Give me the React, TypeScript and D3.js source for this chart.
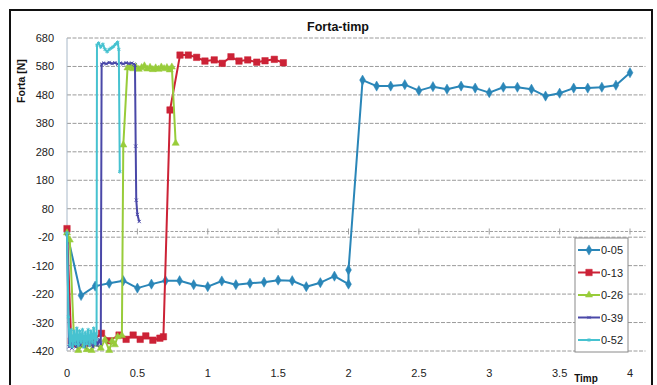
import React from "react";
import * as d3 from "d3";

type Pt = [number, number];

const chartTitle = "Forta-timp";
const yTitle = "Forta [N]";
const xTitle = "Timp";
const yTicks = [680, 580, 480, 380, 280, 180, 80, -20, -120, -220, -320, -420];
const xTicks = [0, 0.5, 1, 1.5, 2, 2.5, 3, 3.5, 4];
const seriesNames = ["0-05", "0-13", "0-26", "0-39", "0-52"];

const s005: Pt[] = [
  [0, -5], [0.1, -225], [0.2, -192], [0.3, -182], [0.4, -173], [0.5, -199], [0.6, -185],
  [0.7, -173], [0.8, -173], [0.9, -187], [1.0, -194], [1.1, -174], [1.2, -187], [1.3, -182],
  [1.4, -178], [1.5, -171], [1.6, -173], [1.7, -194], [1.8, -180], [1.9, -157], [2.0, -185],
  [2.0, -135], [2.1, 532], [2.2, 511], [2.3, 511], [2.4, 516], [2.5, 495], [2.6, 509],
  [2.7, 500], [2.8, 511], [2.9, 504], [3.0, 488], [3.1, 507], [3.2, 507], [3.3, 500],
  [3.4, 476], [3.5, 486], [3.6, 504], [3.7, 504], [3.8, 507], [3.9, 514], [4.0, 558],
];

const s013: Pt[] = [
  [0, 10], [0.03, -385], [0.07, -395], [0.11, -388], [0.15, -392], [0.19, -380],
  [0.245, -358], [0.3, -384], [0.37, -364], [0.42, -379], [0.47, -364], [0.52, -379],
  [0.56, -367], [0.61, -382], [0.66, -375], [0.685, -370], [0.732, 427], [0.803, 620],
  [0.862, 620], [0.921, 612], [0.98, 599], [1.046, 603], [1.103, 591], [1.165, 614],
  [1.222, 599], [1.284, 603], [1.348, 595], [1.407, 600], [1.473, 605], [1.537, 593],
];

const s026: Pt[] = [
  [0, -5], [0.02, -30], [0.05, -380], [0.08, -418], [0.11, -400], [0.14, -415], [0.175, -418],
  [0.2, -395], [0.24, -410], [0.27, -380], [0.3, -418], [0.32, -385], [0.34, -398],
  [0.36, -370], [0.39, -365], [0.4, 304], [0.43, 575], [0.45, 580], [0.47, 572], [0.49, 578],
  [0.51, 570], [0.53, 576], [0.55, 582], [0.57, 571], [0.59, 577], [0.61, 569], [0.63, 575],
  [0.65, 570], [0.67, 578], [0.69, 572], [0.71, 576], [0.73, 568], [0.745, 578], [0.772, 310],
];

const s039: Pt[] = [
  [0, -5], [0.015, -405], [0.025, -360], [0.035, -410], [0.05, -380],
  [0.065, -405], [0.08, -365], [0.095, -400], [0.11, -375], [0.125, -405], [0.14, -370],
  [0.155, -400], [0.17, -378], [0.185, -405], [0.2, -372], [0.215, -400], [0.23, -380],
  [0.24, -395], [0.246, 588], [0.26, 592], [0.28, 589], [0.3, 594], [0.32, 590], [0.34, 593],
  [0.36, 588], [0.38, 592], [0.4, 589], [0.42, 593], [0.44, 590], [0.46, 592], [0.475, 588],
  [0.483, 585], [0.488, 300], [0.492, 110], [0.5, 60], [0.513, 35],
];

const s052: Pt[] = [
  [0, -5], [0.01, -300], [0.02, -400], [0.03, -345], [0.04, -405], [0.05, -350], [0.06, -395],
  [0.07, -340], [0.08, -400], [0.09, -350], [0.1, -390], [0.11, -345], [0.12, -405],
  [0.13, -355], [0.14, -395], [0.15, -345], [0.16, -400], [0.17, -350], [0.18, -390],
  [0.19, -340], [0.2, -395], [0.205, -360], [0.21, -380], [0.213, 655], [0.225, 662],
  [0.24, 648], [0.255, 658], [0.27, 640], [0.285, 632], [0.3, 640], [0.315, 645], [0.33, 650],
  [0.345, 658], [0.36, 665], [0.368, 640], [0.375, 210],
];

const allSeries = [s005, s013, s026, s039, s052];
const colors = ["#2a86b8", "#cc2236", "#98cc3a", "#4a48a8", "#46c2d0"];

const W = 657;
const H = 385;
const font = "'Liberation Sans', Arial, sans-serif";

const symTimes: any = (d3 as any).symbolTimes || d3.symbolCross;
const symAst: any = (d3 as any).symbolAsterisk || d3.symbolCross;
const markerDefs = [
  { type: d3.symbolDiamond, size: 30, filled: true },
  { type: d3.symbolSquare, size: 42, filled: true },
  { type: d3.symbolTriangle, size: 22, filled: true },
  { type: symTimes, size: 8, filled: false },
  { type: symAst, size: 10, filled: false },
];

export default function App() {
  const x = d3.scaleLinear().domain([0, 4.11]).range([67, 67 + 4.11 * 140.75]);
  const y = d3.scaleLinear().domain([-420, 680]).range([351, 38]);
  const line = d3.line<Pt>().x((d) => x(d[0])).y((d) => y(d[1]));

  const plotLeft = x(0);
  const plotRight = x(4.11);

  const legendX = 575;
  const legendY = 238;
  const legendW = 53;
  const legendH = 114;

  const sym = (i: number) => d3.symbol().type(markerDefs[i].type).size(markerDefs[i].size)() || "";

  return (
    <svg
      width={W}
      height={H}
      style={{ position: "absolute", left: 0, top: 0, background: "#fff" }}
      fontFamily={font}
    >
      <rect x={10} y={10} width={642} height={390} fill="#fff" stroke="#111" strokeWidth={2} />
      <text x={338} y={31} textAnchor="middle" fontSize={12.5} fontWeight="bold" fill="#111">
        {chartTitle}
      </text>

      {yTicks.map((t) => (
        <line
          key={"g" + t}
          x1={plotLeft}
          x2={plotRight}
          y1={y(t)}
          y2={y(t)}
          stroke="#9a9a9a"
          strokeWidth={1}
          strokeDasharray="4,1.5"
        />
      ))}
      <line x1={plotLeft} x2={plotLeft} y1={y(680)} y2={y(-420)} stroke="#a8b8c8" strokeWidth={1} />
      <line x1={plotLeft} x2={plotRight} y1={y(0)} y2={y(0)} stroke="#a0a0a0" strokeWidth={1} strokeDasharray="3,1.5" />
      {xTicks.map((t) => (
        <line key={"xt" + t} x1={x(t)} x2={x(t)} y1={y(0) - 3} y2={y(0) + 3} stroke="#a0a0a0" strokeWidth={1} />
      ))}

      {yTicks.map((t) => (
        <text key={"yl" + t} x={54} y={y(t) + 4} textAnchor="end" fontSize={11} fill="#222">
          {t}
        </text>
      ))}
      {xTicks.map((t) => (
        <text key={"xl" + t} x={x(t)} y={377} textAnchor="middle" fontSize={11} fill="#222">
          {t}
        </text>
      ))}
      <text x={586} y={382} textAnchor="middle" fontSize={10} fontWeight="bold" fill="#111">
        {xTitle}
      </text>
      <text
        transform={`translate(25,81) rotate(-90)`}
        textAnchor="middle"
        fontSize={10.5}
        fontWeight="bold"
        fill="#111"
      >
        {yTitle}
      </text>

      {allSeries.map((s, i) => (
        <g key={"s" + i}>
          <path d={line(s) || ""} fill="none" stroke={colors[i]} strokeWidth={2} strokeLinejoin="round" />
          {s.map((p, j) => (
            <path
              key={j}
              d={sym(i)}
              transform={`translate(${x(p[0])},${y(p[1])})`}
              fill={markerDefs[i].filled ? colors[i] : "none"}
              stroke={colors[i]}
              strokeWidth={markerDefs[i].filled ? 0.5 : 1}
            />
          ))}
        </g>
      ))}

      <rect x={legendX} y={legendY} width={legendW} height={legendH} fill="#fff" stroke="#8a8a8a" strokeWidth={1} />
      {seriesNames.map((n, i) => {
        const ly = legendY + 12 + i * 22.5;
        return (
          <g key={"l" + n}>
            <line x1={legendX + 3} x2={legendX + 25} y1={ly} y2={ly} stroke={colors[i]} strokeWidth={2} />
            <path
              d={sym(i)}
              transform={`translate(${legendX + 14},${ly})`}
              fill={markerDefs[i].filled ? colors[i] : "none"}
              stroke={colors[i]}
              strokeWidth={markerDefs[i].filled ? 0.5 : 1}
            />
            <text x={legendX + 26} y={ly + 4} fontSize={11} fill="#222">
              {n}
            </text>
          </g>
        );
      })}
    </svg>
  );
}
